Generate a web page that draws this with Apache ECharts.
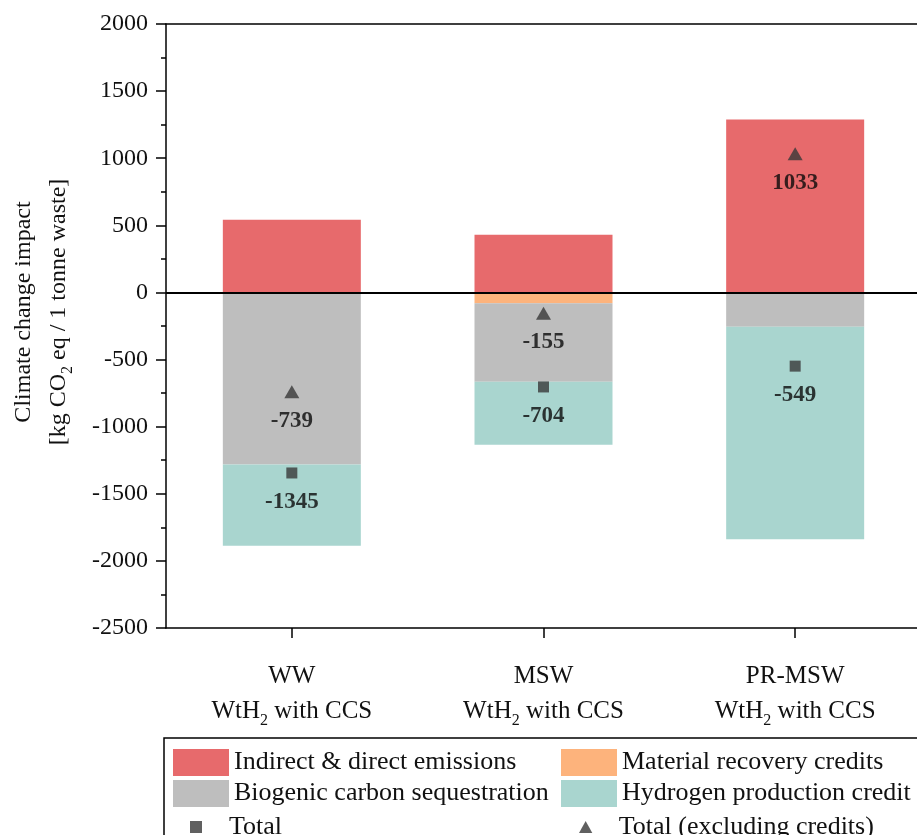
<!DOCTYPE html>
<html>
<head>
<meta charset="utf-8">
<script src="https://cdn.jsdelivr.net/npm/echarts@6/dist/echarts.min.js"></script>
<style>
html,body{margin:0;padding:0;background:#fff;}
#chart{width:917px;height:835px;}
</style>
</head>
<body>
<div id="chart"></div>
<script>
const categories = ['WW', 'MSW', 'PR-MSW'];
const indirectEmissions = [542, 430, 1289];
const materialRecovery = [0, -80, 0];
const biogenicSequestration = [-1281, -585, -256];
const hydrogenCredit = [-606, -469, -1582];
const totalValues = [-1345, -704, -549];
const totalExclCredits = [-739, -155, 1033];
const yMin = -2500, yMax = 2000, yInterval = 500;

const seriesNames = ['Indirect & direct emissions', 'Material recovery credits',
  'Biogenic carbon sequestration', 'Hydrogen production credit',
  'Total', 'Total (excluding credits)'];

const FONT = "'Liberation Serif', 'Times New Roman', serif";
const colors = ['#E76A6C', '#FDB37C', '#BEBEBE', '#A9D5CF'];
const markerColor = '#383838';

const chart = echarts.init(document.getElementById('chart'), null, {renderer: 'canvas'});

function bar(name, data, color, extra) {
  return Object.assign({
    name: name, type: 'bar', stack: 'all', data: data, barWidth: 138,
    itemStyle: {color: color}, emphasis: {disabled: true}
  }, extra || {});
}

const labelStyle = {
  show: true, position: 'inside', offset: [0, 29],
  formatter: p => String(p.value),
  fontFamily: FONT, fontWeight: 'bold', fontSize: 23, color: '#0a0a0a'
};

const legendText = {fontFamily: FONT, fontSize: 26, color: '#111'};

const option = {
  animation: false,
  backgroundColor: '#fff',
  grid: {left: 166, top: 24, width: 755, height: 604, containLabel: false, outerBoundsMode: 'none'},
  xAxis: [{
    type: 'category', data: categories, position: 'bottom',
    axisLine: {show: true, onZero: false, lineStyle: {color: '#000', width: 1.5}},
    axisTick: {show: true, alignWithLabel: true, length: 10, lineStyle: {color: '#000', width: 1.5}},
    axisLabel: {
      margin: 31, interval: 0,
      formatter: v => '{a|' + v + '}\n{a|WtH}{s|2}{a| with CCS}',
      rich: {
        a: {fontFamily: FONT, fontSize: 25, color: '#111', lineHeight: 35},
        s: {fontFamily: FONT, fontSize: 16, color: '#111', lineHeight: 20, verticalAlign: 'bottom'}
      }
    },
    splitLine: {show: false}
  }, {
    type: 'category', data: categories, position: 'top',
    axisLine: {show: true, onZero: false, lineStyle: {color: '#000', width: 1.5}},
    axisTick: {show: false}, axisLabel: {show: false}, splitLine: {show: false}
  }],
  yAxis: {
    type: 'value', min: yMin, max: yMax, interval: yInterval,
    name: 'Climate change impact\n[kg CO{s|2} eq / 1 tonne waste]',
    nameLocation: 'middle', nameGap: 90, nameRotate: 90,
    nameTextStyle: {
      fontFamily: FONT, fontSize: 24, color: '#111', lineHeight: 35,
      padding: [0, 0, 0, 28],
      rich: {s: {fontFamily: FONT, fontSize: 16, color: '#111', lineHeight: 20, verticalAlign: 'bottom'}}
    },
    axisLine: {show: true, lineStyle: {color: '#000', width: 1.5}},
    axisTick: {show: true, length: 10, lineStyle: {color: '#000', width: 1.5}},
    minorTick: {show: true, splitNumber: 2, length: 5, lineStyle: {color: '#000', width: 1.5}},
    axisLabel: {fontFamily: FONT, fontSize: 24, color: '#111', margin: 18, formatter: v => String(v)},
    splitLine: {show: false}
  },
  legend: [{
    data: [seriesNames[0], seriesNames[2]], orient: 'vertical', left: 168, top: 744,
    itemWidth: 56, itemHeight: 27, itemGap: 4, icon: 'rect', textStyle: legendText,
    selectedMode: false
  }, {
    data: [seriesNames[1], seriesNames[3]], orient: 'vertical', left: 556, top: 744,
    itemWidth: 56, itemHeight: 27, itemGap: 4, icon: 'rect', textStyle: legendText,
    selectedMode: false
  }, {
    data: [seriesNames[4]], left: 185, top: 809,
    itemWidth: 56, itemHeight: 12, icon: 'path://M0,0L10,0L10,10L0,10Z', textStyle: legendText,
    selectedMode: false
  }, {
    data: [seriesNames[5]], left: 574, top: 809,
    itemWidth: 56, itemHeight: 12, icon: 'path://M5,0L10,9L0,9Z', textStyle: legendText,
    selectedMode: false
  }],
  graphic: [{
    type: 'rect', silent: true, z: 100,
    shape: {x: 164, y: 738, width: 800, height: 200},
    style: {fill: 'none', stroke: '#000', lineWidth: 1.5}
  }],
  series: [
    bar(seriesNames[0], indirectEmissions, colors[0]),
    bar(seriesNames[1], materialRecovery, colors[1]),
    bar(seriesNames[2], biogenicSequestration, colors[2]),
    bar(seriesNames[3], hydrogenCredit, colors[3], {
      markLine: {
        silent: true, symbol: ['none', 'none'], label: {show: false},
        lineStyle: {color: '#000', width: 2, type: 'solid'},
        data: [{yAxis: 0}]
      }
    }),
    {
      name: seriesNames[4], type: 'scatter', data: totalValues, symbol: 'rect', symbolSize: 11,
      itemStyle: {color: markerColor}, label: labelStyle, z: 5, emphasis: {disabled: true}
    },
    {
      name: seriesNames[5], type: 'scatter', data: totalExclCredits, symbol: 'triangle', symbolSize: [15, 13],
      itemStyle: {color: markerColor}, label: labelStyle, z: 5, emphasis: {disabled: true}
    }
  ]
};
chart.setOption(option);
</script>
</body>
</html>
